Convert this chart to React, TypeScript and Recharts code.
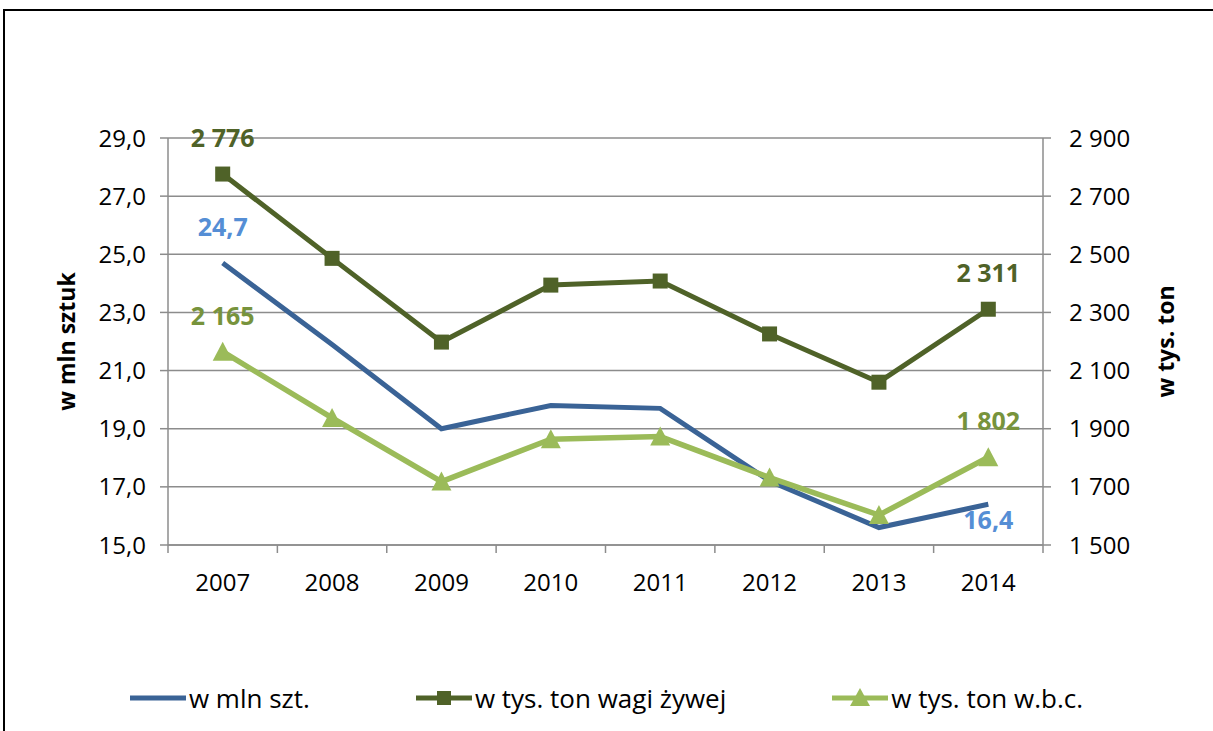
import React from 'react';
import {
  LineChart,
  Line,
  XAxis,
  YAxis,
  CartesianGrid,
  Legend,
  LabelList,
} from 'recharts';

const YEARS = ['2007', '2008', '2009', '2010', '2011', '2012', '2013', '2014'];
const MLN_SZT = [24.7, 21.9, 19.0, 19.8, 19.7, 17.2, 15.6, 16.4];
const TYS_TON_ZYWA = [2776, 2486, 2198, 2394, 2408, 2226, 2060, 2311];
const TYS_TON_WBC = [2165, 1937, 1718, 1864, 1873, 1732, 1603, 1802];

const LEFT_TICKS = [15, 17, 19, 21, 23, 25, 27, 29];
const RIGHT_TICKS = [1500, 1700, 1900, 2100, 2300, 2500, 2700, 2900];

const BLUE = '#3a6396';
const BLUE_LABEL = '#558ed5';
const DARK_GREEN = '#4f6228';
const LIGHT_GREEN = '#9bbb59';
const LIGHT_GREEN_LABEL = '#77933c';
const GRID = '#8c8c8c';
const FONT = '"Open Sans", sans-serif';

const W = 1213;
const H = 731;
const PLOT_LEFT = 168;
const PLOT_RIGHT = 1043;
const HALF_BAND = (PLOT_RIGHT - PLOT_LEFT) / YEARS.length / 2;

const data = YEARS.map((year, i) => ({
  year,
  szt: MLN_SZT[i],
  zywa: TYS_TON_ZYWA[i],
  wbc: TYS_TON_WBC[i],
}));

const fmtLeft = (v: number) => v.toFixed(1).replace('.', ',');
const fmtThousands = (v: number) =>
  String(Math.round(v)).replace(/\B(?=(\d{3})+(?!\d))/g, ' ');

const XTick = (props: any) => {
  const { x, y, payload, index } = props;
  const last = index === YEARS.length - 1;
  return (
    <g>
      <line x1={x - HALF_BAND} y1={y} x2={x - HALF_BAND} y2={y + 8} stroke={GRID} strokeWidth={1.5} />
      {last && <line x1={x + HALF_BAND} y1={y} x2={x + HALF_BAND} y2={y + 8} stroke={GRID} strokeWidth={1.5} />}
      <text x={x} y={y + 36} textAnchor="middle" dominantBaseline="central" fontSize={24} fontFamily={FONT} fill="#000">
        {payload.value}
      </text>
    </g>
  );
};

const Square = (props: any) => {
  const { cx, cy, index } = props;
  return <rect key={`sq-${index}`} x={cx - 7.5} y={cy - 7.5} width={15} height={15} fill={DARK_GREEN} />;
};

const Triangle = (props: any) => {
  const { cx, cy, index } = props;
  return (
    <polygon
      key={`tr-${index}`}
      points={`${cx},${cy - 10} ${cx + 10},${cy + 9} ${cx - 10},${cy + 9}`}
      fill={LIGHT_GREEN}
    />
  );
};

// labels only on first and last year
const endLabel = (color: string, fmt: (v: number) => string, belowLast = false) => (props: any) => {
  const { x, y, value, index } = props;
  if (index !== 0 && index !== YEARS.length - 1) return null;
  const below = belowLast && index === YEARS.length - 1;
  return (
    <text
      key={`lb-${index}`}
      x={x}
      y={below ? y + 15 : y - 37}
      textAnchor="middle"
      dominantBaseline="central"
      fontSize={25}
      fontWeight="bold"
      fontFamily={FONT}
      fill={color}
    >
      {fmt(value)}
    </text>
  );
};

const LegendIcon = ({ color, marker }: { color: string; marker: 'none' | 'square' | 'triangle' }) => (
  <svg width={56} height={24} style={{ display: 'block' }}>
    <line x1={0} y1={12} x2={56} y2={12} stroke={color} strokeWidth={5} strokeLinecap="round" />
    {marker === 'square' && <rect x={21} y={5} width={14} height={14} fill={color} />}
    {marker === 'triangle' && <polygon points="28,2 38,20 18,20" fill={color} />}
  </svg>
);

const LEGEND_ITEMS = [
  { name: 'w mln szt.', color: BLUE, marker: 'none' as const },
  { name: 'w tys. ton wagi żywej', color: DARK_GREEN, marker: 'square' as const },
  { name: 'w tys. ton w.b.c.', color: LIGHT_GREEN, marker: 'triangle' as const },
];

const LegendContent = () => (
  <div style={{ display: 'flex', justifyContent: 'center', gap: 106, fontFamily: FONT, fontSize: 26 }}>
    {LEGEND_ITEMS.map((it) => (
      <div key={it.name} style={{ display: 'flex', alignItems: 'center', gap: 3 }}>
        <LegendIcon color={it.color} marker={it.marker} />
        <span style={{ color: '#000' }}>{it.name}</span>
      </div>
    ))}
  </div>
);

const AxisTitle = (dx: number) => (props: any) => {
  const { viewBox, value } = props;
  const cx = viewBox.x + dx;
  const cy = viewBox.y + viewBox.height / 2;
  return (
    <text
      x={cx}
      y={cy}
      transform={`rotate(-90 ${cx} ${cy})`}
      textAnchor="middle"
      dominantBaseline="central"
      fontSize={23}
      fontWeight="bold"
      fontFamily={FONT}
      fill="#000"
    >
      {value}
    </text>
  );
};

export default function App() {
  return (
    <div>
      <div
        style={{
          position: 'absolute',
          left: 3,
          top: 9,
          width: W - 3,
          height: H - 9,
          borderTop: '2px solid #000',
          borderLeft: '2px solid #000',
          boxSizing: 'border-box',
        }}
      />
      <div style={{ position: 'absolute', left: 0, top: 0 }}>
        <LineChart
          width={W}
          height={H}
          data={data}
          margin={{ top: 138, right: 40, left: 60, bottom: 100 }}
        >
          <CartesianGrid yAxisId="left" vertical={false} stroke={GRID} strokeWidth={1.5} />
          <XAxis
            dataKey="year"
            height={50}
            tick={<XTick />}
            tickSize={0}
            tickMargin={0}
            tickLine={false}
            axisLine={{ stroke: GRID, strokeWidth: 1.5 }}
            interval={0}
            padding={{ left: HALF_BAND, right: HALF_BAND }}
          />
          <YAxis
            yAxisId="left"
            width={108}
            domain={[15, 29]}
            ticks={LEFT_TICKS}
            tickFormatter={fmtLeft}
            tickSize={8}
            tickMargin={14}
            tickLine={{ stroke: GRID, strokeWidth: 1.5 }}
            axisLine={{ stroke: GRID, strokeWidth: 1.5 }}
            tick={{ fill: '#000', fontSize: 24, fontFamily: FONT }}
            label={{ value: 'w mln sztuk', content: AxisTitle(6) }}
          />
          <YAxis
            yAxisId="right"
            orientation="right"
            width={130}
            domain={[1500, 2900]}
            ticks={RIGHT_TICKS}
            tickFormatter={fmtThousands}
            tickSize={8}
            tickMargin={18}
            tickLine={{ stroke: GRID, strokeWidth: 1.5 }}
            axisLine={{ stroke: GRID, strokeWidth: 1.5 }}
            tick={{ fill: '#000', fontSize: 24, fontFamily: FONT }}
            label={{ value: 'w tys. ton', content: AxisTitle(122) }}
          />
          <Legend
            verticalAlign="bottom"
            content={<LegendContent />}
            wrapperStyle={{ top: 680, left: 0, width: W }}
          />
          <Line
            yAxisId="left"
            dataKey="szt"
            name="w mln szt."
            stroke={BLUE}
            strokeWidth={5}
            dot={false}
            isAnimationActive={false}
          >
            <LabelList dataKey="szt" content={endLabel(BLUE_LABEL, fmtLeft, true)} />
          </Line>
          <Line
            yAxisId="right"
            dataKey="zywa"
            name="w tys. ton wagi żywej"
            stroke={DARK_GREEN}
            strokeWidth={5}
            dot={Square}
            isAnimationActive={false}
          >
            <LabelList dataKey="zywa" content={endLabel(DARK_GREEN, fmtThousands)} />
          </Line>
          <Line
            yAxisId="right"
            dataKey="wbc"
            name="w tys. ton w.b.c."
            stroke={LIGHT_GREEN}
            strokeWidth={5.5}
            dot={Triangle}
            isAnimationActive={false}
          >
            <LabelList dataKey="wbc" content={endLabel(LIGHT_GREEN_LABEL, fmtThousands)} />
          </Line>
        </LineChart>
      </div>
    </div>
  );
}
